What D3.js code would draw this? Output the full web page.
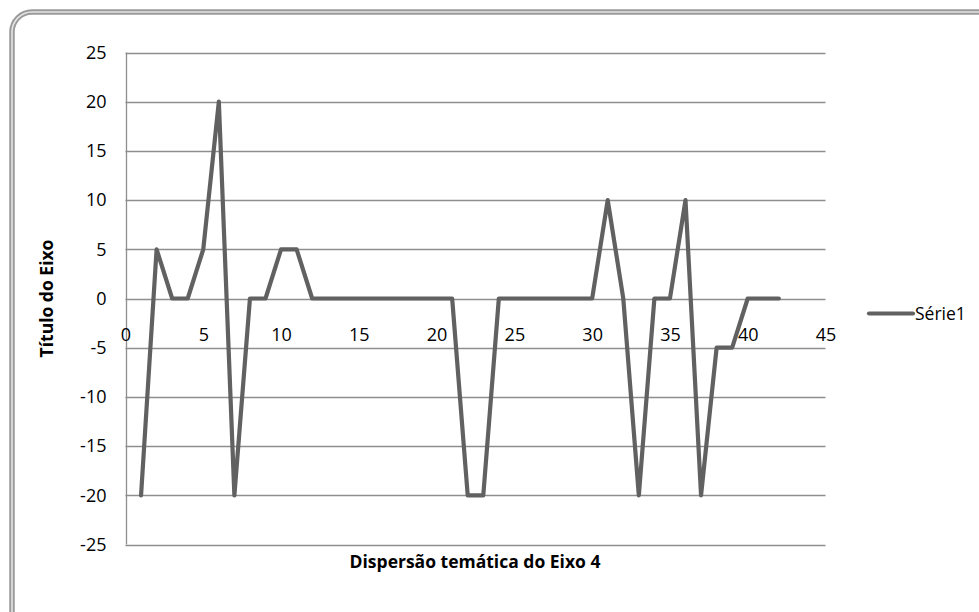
<!DOCTYPE html>
<html>
<head>
<meta charset="utf-8">
<script src="https://cdn.jsdelivr.net/npm/d3@7"></script>
<style>
  html, body { margin: 0; padding: 0; background: #fff; }
  svg { display: block; }
  text { font-family: "Open Sans", "Noto Sans", sans-serif; fill: #000; }
</style>
</head>
<body>
<svg id="chart" width="979" height="612"></svg>
<script>
// Série1: one value per position 1..42
const xValues = d3.range(1, 43);
const serie1 = [
  -20, 5, 0, 0, 5, 20, -20, 0, 0, 5,
  5, 0, 0, 0, 0, 0, 0, 0, 0, 0,
  0, -20, -20, 0, 0, 0, 0, 0, 0, 0,
  10, 0, -20, 0, 0, 10, -20, -5, -5, 0,
  0, 0
];
const xTicks = [0, 5, 10, 15, 20, 25, 30, 35, 40, 45];
const yTicks = [-25, -20, -15, -10, -5, 0, 5, 10, 15, 20, 25];
const seriesName = "Série1";
const xTitle = "Dispersão temática do Eixo 4";
const yTitle = "Título do Eixo";

const svg = d3.select("#chart");
const plot = { left: 125.5, right: 825.5, top: 52.5, bottom: 544.5 };

const x = d3.scaleLinear().domain([0, 45]).range([plot.left, plot.right]);
const y = d3.scaleLinear().domain([-25, 25]).range([plot.bottom, plot.top]);

// plain hyphen for negative numbers
const fmt = d => String(d);

// chart frame: rounded double border running off the right and bottom edges
svg.append("rect")
  .attr("x", 12).attr("y", 12).attr("width", 990).attr("height", 620)
  .attr("rx", 20).attr("ry", 20)
  .attr("fill", "#fff").attr("stroke", "#9a9a9a").attr("stroke-width", 5.5);
svg.append("rect")
  .attr("x", 12).attr("y", 12).attr("width", 990).attr("height", 620)
  .attr("rx", 20).attr("ry", 20)
  .attr("fill", "none").attr("stroke", "#e4e4e4").attr("stroke-width", 1.6);

// horizontal gridlines
svg.append("g")
  .selectAll("line")
  .data(yTicks)
  .join("line")
  .attr("x1", plot.left).attr("x2", plot.right)
  .attr("y1", d => Math.round(y(d)) + 0.5).attr("y2", d => Math.round(y(d)) + 0.5)
  .attr("stroke", "#8e8e8e").attr("stroke-width", 1.3);

// vertical axis line at x = 0
svg.append("line")
  .attr("x1", Math.round(x(0)) + 0.5).attr("x2", Math.round(x(0)) + 0.5)
  .attr("y1", plot.top).attr("y2", plot.bottom)
  .attr("stroke", "#8e8e8e").attr("stroke-width", 1.3);

// y axis labels
const yAxis = d3.axisLeft(y).tickValues(yTicks).tickSize(0).tickPadding(19)
  .tickFormat(fmt);
const gy = svg.append("g").attr("transform", `translate(${x(0)},0)`).call(yAxis);
gy.select(".domain").remove();
gy.selectAll("text")
  .attr("font-family", "\"Open Sans\", sans-serif")
  .attr("font-size", 18).attr("fill", "#000");

// x axis labels, hanging below the zero line
const xAxis = d3.axisBottom(x).tickValues(xTicks).tickSize(0).tickPadding(30)
  .tickFormat(fmt);
const gx = svg.append("g").attr("transform", `translate(0,${y(0)})`).call(xAxis);
gx.select(".domain").remove();
gx.selectAll("text")
  .attr("font-family", "\"Open Sans\", sans-serif")
  .attr("font-size", 18).attr("fill", "#000");

// series line
const line = d3.line()
  .x((d, i) => x(xValues[i]))
  .y(d => y(d));
svg.append("path")
  .datum(serie1)
  .attr("d", line)
  .attr("fill", "none")
  .attr("stroke", "#616161")
  .attr("stroke-width", 4.2)
  .attr("stroke-linejoin", "round")
  .attr("stroke-linecap", "round");

// axis titles
svg.append("text")
  .attr("x", (plot.left + plot.right) / 2 - 0.5).attr("y", 568)
  .attr("text-anchor", "middle")
  .attr("font-size", 17.5).attr("font-weight", "bold")
  .text(xTitle);
svg.append("text")
  .attr("transform", `translate(53,${(plot.top + plot.bottom) / 2}) rotate(-90)`)
  .attr("text-anchor", "middle")
  .attr("font-size", 17.5).attr("font-weight", "bold")
  .text(yTitle);

// legend
const legend = svg.append("g");
legend.append("line")
  .attr("x1", 869).attr("x2", 913).attr("y1", 313.5).attr("y2", 313.5)
  .attr("stroke", "#616161").attr("stroke-width", 4.2).attr("stroke-linecap", "round");
legend.append("text")
  .attr("x", 915).attr("y", 320)
  .attr("font-size", 17.5)
  .text(seriesName);
</script>
</body>
</html>
